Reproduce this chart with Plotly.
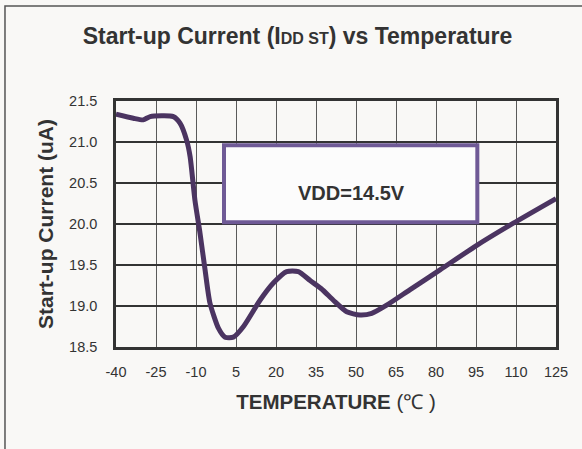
import plotly.graph_objects as go

temperature = [-40, -33.5, -29.8, -27.2, -18.5, -16, -13.5, -12.2, -10.4, -8.5, -6.6, -4.8, -1.6, 0.9, 4,
               7.8, 14, 19, 24, 28.4, 32.8, 37, 41.5, 46.5, 51.5, 55.9, 61.5, 70.3, 81.5, 95.3, 109, 125]
current = [21.34, 21.29, 21.27, 21.31, 21.31, 21.23, 21.02, 20.82, 20.29, 19.89, 19.44, 19.04, 18.73, 18.62, 18.62,
           18.75, 19.07, 19.28, 19.42, 19.42, 19.31, 19.21, 19.07, 18.93, 18.89, 18.91, 19.01, 19.2, 19.44, 19.74, 20.01, 20.31]

x_ticks = [-40, -25, -10, 5, 20, 35, 50, 65, 80, 95, 110, 125]
y_ticks = [18.5, 19.0, 19.5, 20.0, 20.5, 21.0, 21.5]

BG = "#f9f8f6"
FONT = "Liberation Sans, Arial, sans-serif"

fig = go.Figure()
fig.add_trace(go.Scatter(x=temperature, y=current, mode="lines",
                         line=dict(color="#4b3461", width=5, shape="spline", smoothing=0.6),
                         showlegend=False, hoverinfo="skip"))

fig.update_layout(
    width=582, height=449,
    margin=dict(l=116, r=26, t=101, b=102),
    paper_bgcolor=BG, plot_bgcolor=BG,
    font=dict(family=FONT, color="#333333", size=14),
    title=dict(text="<b>Start-up Current (I<span style='font-size:16px'>DD ST</span>) vs Temperature</b>",
               x=(297.5 - 116) / 440, xref="paper", y=1 - 36 / 449, yanchor="middle", xanchor="center",
               font=dict(size=23, color="#333333", family=FONT)),
    xaxis=dict(range=[-40, 125], tickvals=x_ticks, ticktext=[str(v) for v in x_ticks],
               showgrid=True, gridcolor="#5a5a5a", gridwidth=1.2,
               showline=True, linecolor="#333333", linewidth=2.5, mirror=True,
               zeroline=False, ticks="outside", ticklen=10, tickcolor=BG,
               title=dict(text="<b>TEMPERATURE</b> (℃ )", standoff=16, font=dict(size=20.5, color="#333333")),
               tickfont=dict(size=14.5, color="#333333")),
    yaxis=dict(range=[18.5, 21.5], tickvals=y_ticks, ticktext=[f"{v:.1f}" for v in y_ticks],
               showgrid=True, gridcolor="#333333", gridwidth=1.5,
               showline=True, linecolor="#333333", linewidth=2.5, mirror=True,
               zeroline=False, ticks="outside", ticklen=13, tickcolor=BG,
               title=dict(text="<b>Start-up Current (uA)</b>", standoff=10, font=dict(size=21, color="#333333")),
               tickfont=dict(size=14.5, color="#333333")),
)

# annotation box
fig.add_shape(type="rect", xref="x", yref="y", x0=0.5, x1=95.5, y0=20.02, y1=20.96,
              line=dict(color="#6f5a96", width=4), fillcolor="#fcfcfc", layer="above")
fig.add_annotation(x=48.4, y=20.38, xref="x", yref="y", text="<b>VDD=14.5V</b>", showarrow=False,
                   font=dict(size=20, color="#333333", family=FONT))

# outer frame
fig.add_shape(type="rect", xref="paper", yref="paper", x0=-0.2523, x1=1.3, y0=-0.6, y1=1.386,
              line=dict(color="#555555", width=1.5), fillcolor="rgba(0,0,0,0)", layer="below")

fig.write_html("out.html", config={"displayModeBar": False},
               post_script="document.body.style.margin='0';document.body.style.padding='0';")
